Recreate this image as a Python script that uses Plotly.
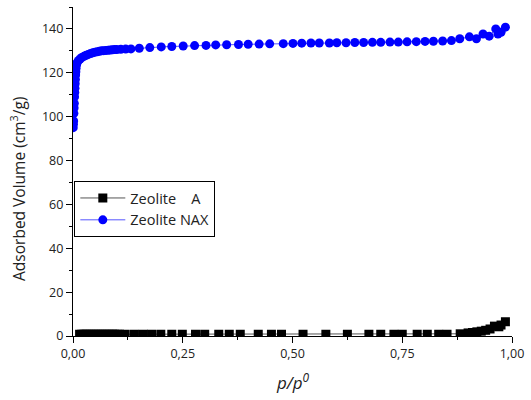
import plotly.graph_objects as go

# Zeolite NAX (blue circles)
nax_p = [0.0005, 0.001, 0.0015, 0.002, 0.0025, 0.003, 0.0035, 0.004, 0.0045, 0.005, 0.0055, 0.006,
         0.0065, 0.007, 0.008, 0.009, 0.012, 0.016, 0.02, 0.025, 0.03, 0.035, 0.04, 0.045, 0.05,
         0.055, 0.06, 0.065, 0.07, 0.075, 0.08, 0.085, 0.09, 0.095, 0.1, 0.109, 0.12,
         0.132, 0.151, 0.175, 0.201, 0.225, 0.251, 0.277, 0.303, 0.325, 0.350, 0.377, 0.399,
         0.424, 0.448, 0.479, 0.501, 0.521, 0.542, 0.561, 0.584, 0.601, 0.622, 0.642, 0.662,
         0.682, 0.701, 0.722, 0.741, 0.761, 0.782, 0.802, 0.821, 0.842, 0.862, 0.881, 0.903,
         0.919, 0.934, 0.948, 0.963, 0.968, 0.975, 0.985]
nax_v = [95.0, 96.5, 98.0, 101.5, 104.0, 106.0, 109.0, 111.0, 113.0, 115.0, 117.0, 119.0,
         120.5, 122.0, 123.5, 124.5, 125.5, 126.3, 127.0, 127.5, 128.0, 128.4, 128.8, 129.1, 129.4,
         129.6, 129.8, 130.0, 130.1, 130.2, 130.3, 130.4, 130.5, 130.6, 130.6, 130.7, 130.8,
         130.9, 131.2, 131.5, 131.8, 132.0, 132.2, 132.4, 132.5, 132.7, 132.8, 132.9, 133.0,
         133.1, 133.2, 133.3, 133.4, 133.5, 133.6, 133.6, 133.6, 133.7, 133.7, 133.8, 133.8,
         133.9, 133.9, 134.0, 134.0, 134.1, 134.2, 134.3, 134.4, 134.5, 134.7, 135.5, 136.4,
         135.5, 137.7, 136.7, 140.0, 137.7, 138.5, 140.8]

# Zeolite A (black squares)
a_p = [0.015, 0.02, 0.025, 0.03, 0.035, 0.04, 0.045, 0.05, 0.055, 0.06, 0.065, 0.07, 0.075,
       0.08, 0.085, 0.09, 0.095, 0.1, 0.106, 0.119, 0.14, 0.16, 0.179, 0.2, 0.225, 0.249,
       0.279, 0.3, 0.332, 0.356, 0.381, 0.422, 0.452, 0.475, 0.524, 0.576, 0.625, 0.674,
       0.701, 0.731, 0.75, 0.784, 0.807, 0.833, 0.852, 0.882, 0.9, 0.91, 0.92, 0.93, 0.94,
       0.95, 0.96, 0.97, 0.975, 0.985]
a_v = [0.8, 0.8, 0.8, 0.8, 0.8, 0.8, 0.8, 0.8, 0.8, 0.8, 0.8, 0.8, 0.8,
       0.8, 0.8, 0.8, 0.8, 0.8, 0.8, 0.8, 0.8, 0.8, 0.8, 0.8, 0.8, 0.8,
       0.8, 0.8, 0.8, 0.8, 0.8, 0.8, 0.8, 0.8, 0.8, 0.8, 0.8, 0.8,
       0.8, 0.8, 0.8, 0.8, 0.8, 0.8, 0.8, 1.0, 1.4, 1.6, 1.9, 2.2, 2.6,
       3.2, 4.5, 4.2, 5.0, 6.5]

x_ticks = [0, 0.25, 0.5, 0.75, 1.0]
x_labels = ["0,00", "0,25", "0,50", "0,75", "1,00"]
y_ticks = [0, 20, 40, 60, 80, 100, 120, 140]

FONT = "Open Sans"

fig = go.Figure()
fig.add_trace(go.Scatter(
    x=a_p, y=a_v, mode="lines+markers", name="Zeolite\u00a0\u00a0\u00a0\u00a0A",
    line=dict(color="#555555", width=1),
    marker=dict(symbol="square", size=9, color="black"),
))
fig.add_trace(go.Scatter(
    x=nax_p, y=nax_v, mode="lines+markers", name="Zeolite NAX",
    line=dict(color="#5555ff", width=1),
    marker=dict(symbol="circle", size=9, color="#0000ff"),
))

axis_common = dict(
    showline=True, linecolor="black", linewidth=1.3, showgrid=False, zeroline=False,
    ticks="outside", ticklen=6, tickwidth=1.3, tickcolor="black",
    tickfont=dict(family=FONT, size=12.5, color="#222222"),
    minor=dict(ticks="outside", ticklen=3, tickwidth=1.3, tickcolor="black"),
)

fig.update_xaxes(range=[0, 1.0], tickvals=x_ticks, ticktext=x_labels,
                 minor_tickvals=[0.125, 0.375, 0.625, 0.875], **axis_common)
fig.update_yaxes(range=[0, 150], tickvals=y_ticks,
                 minor_tickvals=[10, 30, 50, 70, 90, 110, 130, 150], **axis_common)

fig.update_layout(
    width=531, height=400,
    margin=dict(l=73, r=15, t=7, b=64),
    plot_bgcolor="white", paper_bgcolor="white",
    font=dict(family=FONT, color="#222222"),
    showlegend=True,
    legend=dict(x=0.003, y=0.471, xanchor="left", yanchor="top",
                bordercolor="black", borderwidth=1, bgcolor="white",
                font=dict(family=FONT, size=14.5, color="#222222"),
                itemwidth=45, tracegroupgap=0),
    annotations=[
        dict(text="Adsorbed Volume (cm<sup>3</sup>/g)", textangle=-90,
             xref="paper", yref="paper", x=0, y=0.447, xshift=-55,
             xanchor="center", yanchor="middle", showarrow=False,
             font=dict(family=FONT, size=15.5, color="#222222")),
        dict(text="<i>p/p<sup>0</sup></i>",
             xref="paper", yref="paper", x=0.5, y=0, yshift=-45,
             xanchor="center", yanchor="middle", showarrow=False,
             font=dict(family=FONT, size=17, color="#222222")),
    ],
)

fig.write_html("out.html")
